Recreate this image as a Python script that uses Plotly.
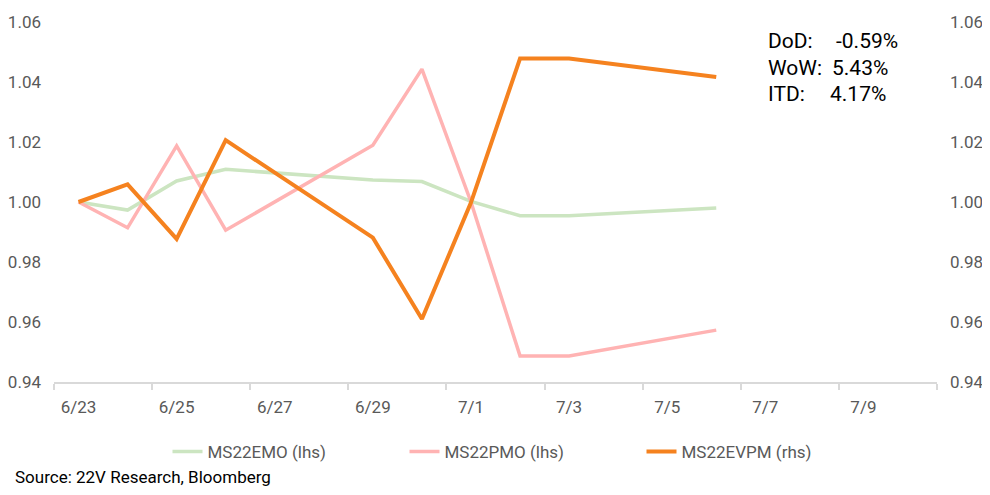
import plotly.graph_objects as go

# dados
dates = ["2025-06-23", "2025-06-24", "2025-06-25", "2025-06-26", "2025-06-29",
         "2025-06-30", "2025-07-01", "2025-07-02", "2025-07-03", "2025-07-06"]
ms22emo = [1.000, 0.9973, 1.0070, 1.0109, 1.0073, 1.0068, 1.0002, 0.9954, 0.9954, 0.9980]
ms22pmo = [1.000, 0.9914, 1.0187, 0.9906, 1.0189, 1.0443, 1.0000, 0.9487, 0.9487, 0.9573]
ms22evpm = [1.000, 1.0059, 0.9877, 1.0206, 0.9881, 0.9610, 0.9998, 1.0478, 1.0478, 1.0417]

stat_labels = ["DoD:", "WoW:", "ITD:"]
stat_values = ["-0.59%", "5.43%", "4.17%"]

FONT = "Roboto, sans-serif"
GREY = "#595959"

fig = go.Figure()

fig.add_trace(go.Scatter(
    x=dates, y=ms22emo, name="MS22EMO (lhs)", mode="lines",
    line=dict(color="#CCE5C1", width=3.5), yaxis="y"
))
fig.add_trace(go.Scatter(
    x=dates, y=ms22pmo, name="MS22PMO (lhs)", mode="lines",
    line=dict(color="#FFB3B3", width=3.5), yaxis="y"
))
fig.add_trace(go.Scatter(
    x=dates, y=ms22evpm, name="MS22EVPM (rhs)", mode="lines",
    line=dict(color="#F5821F", width=4), yaxis="y2"
))

# a pagina tem margem de 8px no body
OFF = 8
W, H = 990 - 2 * OFF, 495 - 2 * OFF
L, T = 54 - OFF, 22 - OFF
pw, ph = 883, 360
R, B = W - L - pw, H - T - ph


def px(x):
    return (x - OFF - L) / pw


def py(y):
    return (T + ph - (y - OFF)) / ph


annotations = []
for i, (lab, val) in enumerate(zip(stat_labels, stat_values)):
    yy = py(41 + i * 26.5)
    annotations.append(dict(x=px(766), y=yy, xref="paper", yref="paper", text=lab,
                            showarrow=False, xanchor="left", yanchor="middle",
                            font=dict(family=FONT, size=21, color="black")))
    annotations.append(dict(x=px([834, 830, 828][i]), y=yy, xref="paper", yref="paper", text=val,
                            showarrow=False, xanchor="left", yanchor="middle",
                            font=dict(family=FONT, size=21, color="black")))

annotations.append(dict(x=px(13), y=py(477), xref="paper", yref="paper",
                        text="Source: 22V Research, Bloomberg", showarrow=False,
                        xanchor="left", yanchor="middle",
                        font=dict(family=FONT, size=17, color="black")))

yax = dict(range=[0.94, 1.06], dtick=0.02, tickformat=".2f", showgrid=False,
           zeroline=False, showline=False, ticks="", ticklabelstandoff=12,
           automargin=False,
           tickfont=dict(family=FONT, size=17, color=GREY))

fig.update_layout(
    width=W, height=H,
    margin=dict(l=L, r=R, t=T, b=B, autoexpand=False),
    plot_bgcolor="white", paper_bgcolor="white",
    font=dict(family=FONT, size=17, color=GREY),
    showlegend=True,
    legend=dict(orientation="h", x=px(523), xanchor="center", y=py(452), yanchor="middle",
                font=dict(family=FONT, size=17, color=GREY),
                entrywidth=192, entrywidthmode="pixels", tracegroupgap=0),
    xaxis=dict(
        type="date", range=["2025-06-22 12:00", "2025-07-10 12:00"],
        tick0="2025-06-23", dtick=2 * 86400000, tickformat="%-m/%-d",
        ticks="", showgrid=False, zeroline=False, automargin=False,
        showline=True, linecolor="#D9D9D9", linewidth=1.5,
        ticklabelstandoff=9,
        tickfont=dict(family=FONT, size=17, color=GREY),
        minor=dict(ticks="outside", tick0="2025-06-22 12:00", dtick=2 * 86400000,
                   ticklen=6, tickcolor="#D9D9D9", tickwidth=1.5, showgrid=False),
    ),
    yaxis=yax,
    yaxis2=dict(yax, overlaying="y", side="right"),
    annotations=annotations,
)

fig.write_html("out.html")
